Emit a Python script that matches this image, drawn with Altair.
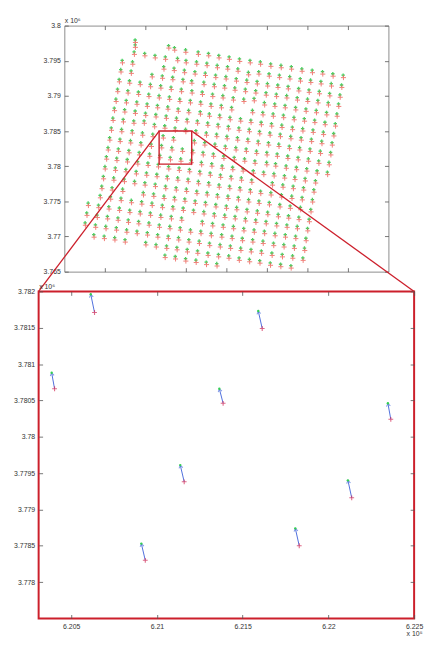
import math
import altair as alt
import pandas as pd

# ---------------- data ----------------
# Overview panel: surveyed grid points, easting (x 10^5 m) and northing (x 10^6 m), one list per grid row
TOP_EAST = [
    [6.1551, 6.1551, 6.1716, 6.1745, 6.1800, 6.1862, 6.1913, 6.1964, 6.2015, 6.2066, 6.2118, 6.2169, 6.2220, 6.2271, 6.2322, 6.2374, 6.2425, 6.2476, 6.2527, 6.2578],
    [6.1546, 6.1598, 6.1649, 6.1700, 6.1760, 6.1802, 6.1854, 6.1905, 6.1956, 6.2007, 6.2058, 6.2110, 6.2161, 6.2212, 6.2263, 6.2314, 6.2366, 6.2417, 6.2468, 6.2519, 6.2570],
    [6.1487, 6.1538, 6.1692, 6.1743, 6.1794, 6.1846, 6.1897, 6.1948, 6.1999, 6.2050, 6.2102, 6.2153, 6.2204, 6.2255, 6.2306, 6.2358, 6.2409, 6.2460, 6.2511, 6.2562],
    [6.1480, 6.1531, 6.1634, 6.1685, 6.1736, 6.1787, 6.1830, 6.1890, 6.1941, 6.1992, 6.2043, 6.2095, 6.2146, 6.2197, 6.2248, 6.2299, 6.2351, 6.2402, 6.2453, 6.2504, 6.2555],
    [6.1472, 6.1523, 6.1575, 6.1626, 6.1677, 6.1728, 6.1779, 6.1831, 6.1882, 6.1933, 6.1984, 6.2035, 6.2087, 6.2138, 6.2189, 6.2240, 6.2291, 6.2343, 6.2394, 6.2445, 6.2496, 6.2547],
    [6.1464, 6.1515, 6.1567, 6.1618, 6.1669, 6.1720, 6.1771, 6.1823, 6.1874, 6.1925, 6.1976, 6.2027, 6.2130, 6.2181, 6.2232, 6.2283, 6.2335, 6.2386, 6.2437, 6.2488, 6.2539],
    [6.1456, 6.1507, 6.1559, 6.1610, 6.1661, 6.1712, 6.1763, 6.1815, 6.1872, 6.1917, 6.1968, 6.2019, 6.2071, 6.2122, 6.2173, 6.2224, 6.2275, 6.2327, 6.2378, 6.2429, 6.2480, 6.2531],
    [6.1448, 6.1499, 6.1551, 6.1602, 6.1653, 6.1704, 6.1755, 6.1807, 6.1858, 6.1909, 6.1960, 6.2011, 6.2063, 6.2114, 6.2165, 6.2216, 6.2267, 6.2319, 6.2370, 6.2421, 6.2472, 6.2523],
    [6.1441, 6.1492, 6.1544, 6.1595, 6.1646, 6.1697, 6.1748, 6.1800, 6.1851, 6.1902, 6.1953, 6.2004, 6.2056, 6.2107, 6.2158, 6.2209, 6.2260, 6.2312, 6.2363, 6.2414, 6.2465, 6.2516],
    [6.1433, 6.1484, 6.1536, 6.1587, 6.1638, 6.1689, 6.1740, 6.1843, 6.1894, 6.1945, 6.1996, 6.2048, 6.2099, 6.2150, 6.2201, 6.2252, 6.2304, 6.2355, 6.2406, 6.2457, 6.2508],
    [6.1425, 6.1476, 6.1528, 6.1579, 6.1630, 6.1681, 6.1732, 6.1784, 6.1835, 6.1886, 6.1937, 6.1988, 6.2040, 6.2091, 6.2142, 6.2200, 6.2244, 6.2296, 6.2347, 6.2398, 6.2449, 6.2500],
    [6.1417, 6.1468, 6.1520, 6.1571, 6.1622, 6.1673, 6.1724, 6.1776, 6.1827, 6.1878, 6.1929, 6.1980, 6.2032, 6.2083, 6.2134, 6.2185, 6.2236, 6.2288, 6.2339, 6.2390, 6.2441],
    [6.1409, 6.1460, 6.1512, 6.1563, 6.1614, 6.1665, 6.1716, 6.1768, 6.1819, 6.1870, 6.1921, 6.1972, 6.2024, 6.2075, 6.2126, 6.2228, 6.2280, 6.2331, 6.2382, 6.2433],
    [6.1402, 6.1453, 6.1505, 6.1556, 6.1607, 6.1658, 6.1709, 6.1761, 6.1812, 6.1863, 6.1914, 6.1965, 6.2017, 6.2068, 6.2119, 6.2170, 6.2221, 6.2273, 6.2324, 6.2375, 6.2426],
    [6.1394, 6.1445, 6.1497, 6.1548, 6.1599, 6.1650, 6.1701, 6.1753, 6.1804, 6.1855, 6.1906, 6.1957, 6.2009, 6.2060, 6.2111, 6.2162, 6.2213, 6.2265, 6.2316, 6.2367, 6.2418],
    [6.1386, 6.1437, 6.1489, 6.1591, 6.1642, 6.1693, 6.1745, 6.1796, 6.1847, 6.1898, 6.1949, 6.2001, 6.2052, 6.2103, 6.2154, 6.2205, 6.2257, 6.2308, 6.2359, 6.2410],
    [6.1378, 6.1429, 6.1481, 6.1532, 6.1583, 6.1634, 6.1685, 6.1737, 6.1788, 6.1839, 6.1890, 6.1941, 6.1993, 6.2044, 6.2095, 6.2146, 6.2197, 6.2249, 6.2300, 6.2351, 6.2402],
    [6.1319, 6.1370, 6.1421, 6.1473, 6.1524, 6.1575, 6.1626, 6.1677, 6.1729, 6.1780, 6.1882, 6.1933, 6.1985, 6.2036, 6.2087, 6.2138, 6.2189, 6.2241, 6.2292, 6.2343, 6.2394],
    [6.1312, 6.1363, 6.1414, 6.1466, 6.1517, 6.1568, 6.1619, 6.1670, 6.1722, 6.1773, 6.1824, 6.1875, 6.1926, 6.1978, 6.2029, 6.2080, 6.2131, 6.2182, 6.2234, 6.2285, 6.2336, 6.2387],
    [6.1304, 6.1355, 6.1406, 6.1458, 6.1509, 6.1560, 6.1611, 6.1662, 6.1714, 6.1765, 6.1816, 6.1867, 6.1918, 6.1970, 6.2021, 6.2072, 6.2123, 6.2174, 6.2226, 6.2277, 6.2328, 6.2379],
    [6.1347, 6.1398, 6.1450, 6.1501, 6.1603, 6.1654, 6.1706, 6.1757, 6.1808, 6.1859, 6.1910, 6.1962, 6.2013, 6.2064, 6.2115, 6.2166, 6.2218, 6.2269, 6.2320],
    [6.1698, 6.1749, 6.1800, 6.1851, 6.1902, 6.1954],
]
TOP_NORTH = [
    [3.7976, 3.7969, 3.7968, 3.7965, 3.7962, 3.7959, 3.7957, 3.7954, 3.7952, 3.7949, 3.7947, 3.7945, 3.7942, 3.7940, 3.7938, 3.7935, 3.7933, 3.7931, 3.7928, 3.7926],
    [3.7959, 3.7957, 3.7954, 3.7952, 3.7950, 3.7947, 3.7945, 3.7943, 3.7940, 3.7938, 3.7935, 3.7930, 3.7931, 3.7928, 3.7926, 3.7924, 3.7921, 3.7919, 3.7917, 3.7914, 3.7912],
    [3.7947, 3.7945, 3.7938, 3.7936, 3.7933, 3.7931, 3.7929, 3.7926, 3.7924, 3.7921, 3.7919, 3.7917, 3.7914, 3.7912, 3.7910, 3.7907, 3.7905, 3.7903, 3.7900, 3.7898],
    [3.7934, 3.7932, 3.7927, 3.7925, 3.7923, 3.7920, 3.7918, 3.7916, 3.7913, 3.7911, 3.7908, 3.7906, 3.7904, 3.7901, 3.7899, 3.7897, 3.7894, 3.7892, 3.7890, 3.7887, 3.7885],
    [3.7920, 3.7918, 3.7916, 3.7913, 3.7911, 3.7909, 3.7906, 3.7904, 3.7902, 3.7899, 3.7897, 3.7894, 3.7892, 3.7893, 3.7887, 3.7885, 3.7883, 3.7880, 3.7878, 3.7876, 3.7873, 3.7871],
    [3.7906, 3.7904, 3.7902, 3.7899, 3.7897, 3.7895, 3.7892, 3.7890, 3.7888, 3.7885, 3.7883, 3.7880, 3.7876, 3.7873, 3.7871, 3.7869, 3.7866, 3.7864, 3.7862, 3.7859, 3.7857],
    [3.7892, 3.7890, 3.7888, 3.7885, 3.7883, 3.7881, 3.7878, 3.7876, 3.7874, 3.7871, 3.7869, 3.7866, 3.7864, 3.7862, 3.7859, 3.7857, 3.7855, 3.7852, 3.7850, 3.7848, 3.7845, 3.7843],
    [3.7879, 3.7877, 3.7875, 3.7872, 3.7870, 3.7868, 3.7865, 3.7863, 3.7861, 3.7858, 3.7856, 3.7853, 3.7851, 3.7849, 3.7846, 3.7844, 3.7842, 3.7839, 3.7837, 3.7835, 3.7832, 3.7830],
    [3.7865, 3.7863, 3.7861, 3.7861, 3.7856, 3.7854, 3.7851, 3.7849, 3.7847, 3.7844, 3.7842, 3.7839, 3.7837, 3.7835, 3.7832, 3.7830, 3.7828, 3.7825, 3.7823, 3.7821, 3.7818, 3.7816],
    [3.7851, 3.7849, 3.7847, 3.7844, 3.7842, 3.7840, 3.7837, 3.7833, 3.7830, 3.7828, 3.7825, 3.7823, 3.7821, 3.7818, 3.7816, 3.7814, 3.7811, 3.7809, 3.7807, 3.7804, 3.7802],
    [3.7837, 3.7835, 3.7833, 3.7830, 3.7828, 3.7826, 3.7823, 3.7821, 3.7819, 3.7816, 3.7814, 3.7811, 3.7809, 3.7807, 3.7804, 3.7802, 3.7800, 3.7797, 3.7795, 3.7793, 3.7790, 3.7788],
    [3.7823, 3.7821, 3.7819, 3.7816, 3.7814, 3.7812, 3.7809, 3.7807, 3.7805, 3.7802, 3.7800, 3.7797, 3.7795, 3.7793, 3.7790, 3.7788, 3.7786, 3.7783, 3.7781, 3.7779, 3.7776],
    [3.7810, 3.7808, 3.7806, 3.7803, 3.7801, 3.7799, 3.7796, 3.7794, 3.7792, 3.7789, 3.7787, 3.7784, 3.7782, 3.7780, 3.7777, 3.7773, 3.7770, 3.7768, 3.7766, 3.7763],
    [3.7796, 3.7794, 3.7792, 3.7789, 3.7787, 3.7785, 3.7782, 3.7780, 3.7778, 3.7775, 3.7773, 3.7770, 3.7768, 3.7766, 3.7763, 3.7761, 3.7759, 3.7756, 3.7754, 3.7752, 3.7749],
    [3.7782, 3.7780, 3.7778, 3.7775, 3.7773, 3.7771, 3.7768, 3.7766, 3.7764, 3.7761, 3.7759, 3.7756, 3.7754, 3.7752, 3.7749, 3.7747, 3.7745, 3.7742, 3.7740, 3.7738, 3.7735],
    [3.7768, 3.7766, 3.7764, 3.7759, 3.7757, 3.7754, 3.7752, 3.7750, 3.7747, 3.7745, 3.7742, 3.7740, 3.7738, 3.7735, 3.7733, 3.7731, 3.7728, 3.7726, 3.7724, 3.7721],
    [3.7755, 3.7753, 3.7751, 3.7748, 3.7746, 3.7744, 3.7741, 3.7739, 3.7737, 3.7734, 3.7732, 3.7729, 3.7727, 3.7725, 3.7722, 3.7720, 3.7718, 3.7715, 3.7713, 3.7711, 3.7708],
    [3.7744, 3.7741, 3.7739, 3.7737, 3.7734, 3.7732, 3.7730, 3.7727, 3.7725, 3.7723, 3.7718, 3.7715, 3.7713, 3.7711, 3.7708, 3.7706, 3.7704, 3.7701, 3.7699, 3.7697, 3.7694],
    [3.7730, 3.7727, 3.7725, 3.7723, 3.7720, 3.7718, 3.7716, 3.7713, 3.7711, 3.7709, 3.7706, 3.7704, 3.7701, 3.7699, 3.7697, 3.7694, 3.7692, 3.7690, 3.7687, 3.7685, 3.7683, 3.7680],
    [3.7716, 3.7713, 3.7711, 3.7709, 3.7706, 3.7704, 3.7702, 3.7699, 3.7697, 3.7695, 3.7692, 3.7690, 3.7687, 3.7685, 3.7683, 3.7680, 3.7678, 3.7676, 3.7673, 3.7671, 3.7669, 3.7666],
    [3.7699, 3.7697, 3.7695, 3.7692, 3.7688, 3.7685, 3.7683, 3.7681, 3.7678, 3.7676, 3.7673, 3.7671, 3.7669, 3.7666, 3.7664, 3.7662, 3.7659, 3.7657, 3.7655],
    [3.7670, 3.7668, 3.7665, 3.7663, 3.7660, 3.7658],
]

TOP_X_DOMAIN = [6.12, 6.28]
TOP_Y_DOMAIN = [3.765, 3.80]
TOP_X_TICKS = [6.14, 6.16, 6.18, 6.20, 6.22, 6.24, 6.26]
TOP_Y_TICKS = [3.765, 3.77, 3.775, 3.78, 3.785, 3.79, 3.795, 3.80]

# zoom window marked on the overview
ZOOM_EAST = [6.1668, 6.1829]
ZOOM_NORTH = [3.7803, 3.7850]

# Detail panel: displacement arrows (tail = red +, head = green)
DET_X_DOMAIN = [6.2031, 6.2250]
DET_Y_DOMAIN = [3.7775, 3.7820]
DET_X_TICKS = [6.205, 6.21, 6.215, 6.22, 6.225]
DET_Y_TICKS = [3.778, 3.7785, 3.779, 3.7795, 3.78, 3.7805, 3.781, 3.7815, 3.782]
TAIL_EAST = [6.20636, 6.20403, 6.21614, 6.21386, 6.22364, 6.21159, 6.20932, 6.21830, 6.22136]
TAIL_NORTH = [3.78171, 3.78066, 3.78149, 3.78046, 3.78024, 3.77938, 3.77830, 3.77850, 3.77916]
HEAD_EAST = [6.20614, 6.20386, 6.21591, 6.21364, 6.22347, 6.21136, 6.20909, 6.21807, 6.22114]
HEAD_NORTH = [3.78196, 3.78088, 3.78173, 3.78066, 3.78046, 3.77961, 3.77853, 3.77874, 3.77940]

# ---------------- layout / style ----------------
W1, H1 = 328, 249
W2, H2 = 380, 331
GAP = 20
FONT = "Liberation Sans"
RED_PT = "#ef6158"
GREEN_PT = "#33cf52"
FRAME_RED = "#cc1f2b"
BLUE = "#4e6fdc"
TAIL_RED = "#d42a55"
CROSS = "M -1 0 L 1 0 M 0 -1 L 0 1"
CHEVRON = "M -0.65 1 L 0 0 L 0.65 1"

east, north = [], []
for xs, ys in zip(TOP_EAST, TOP_NORTH):
    assert len(xs) == len(ys)
    east += xs
    north += ys
top_df = pd.DataFrame({"x": east, "y": north})


def axis(orient, values, labels=True, fmt=None, title=None, **extra):
    kw = dict(orient=orient, values=values, labels=labels, offset=-4, tickSize=4,
              tickWidth=0.8, tickColor="#555555", domain=False, grid=False,
              labelFont=FONT, labelFontSize=7, labelColor="#333333",
              labelPadding=4, labelFlush=False, title=title)
    if fmt:
        kw["format"] = fmt
    kw.update(extra)
    return alt.Axis(**kw)


def expo(**extra):
    d = dict(titleAngle=0, titleFont=FONT, titleFontSize=7, titleFontWeight="normal",
             titleColor="#333333", titleBaseline="alphabetic")
    d.update(extra)
    return d


xs1 = alt.Scale(domain=TOP_X_DOMAIN, nice=False, zero=False)
ys1 = alt.Scale(domain=TOP_Y_DOMAIN, nice=False, zero=False)

top_green = alt.Chart(top_df).mark_point(shape=CROSS, filled=False, size=12, strokeWidth=1.3,
                                         color=GREEN_PT, opacity=0.9,
                                         yOffset=-2.5, xOffset=-0.3).encode(
    x=alt.X("x:Q", scale=xs1, axis=axis("bottom", TOP_X_TICKS, labels=False)),
    y=alt.Y("y:Q", scale=ys1, axis=axis("left", TOP_Y_TICKS, fmt=".4~r", title="x 10⁶",
                                          **expo(titleX=-4, titleY=-3, titleAlign="left"))),
)
top_red = alt.Chart(top_df).mark_point(shape=CROSS, filled=False, size=26, strokeWidth=1,
                                       color=RED_PT, opacity=0.8).encode(
    x=alt.X("x:Q", scale=xs1, axis=None),
    y=alt.Y("y:Q", scale=ys1, axis=None),
)

box_df = pd.DataFrame({"x": [ZOOM_EAST[0]], "x2": [ZOOM_EAST[1]],
                       "y": [ZOOM_NORTH[0]], "y2": [ZOOM_NORTH[1]]})
box = alt.Chart(box_df).mark_rect(fillOpacity=0, stroke=FRAME_RED, strokeWidth=1.4).encode(
    x=alt.X("x:Q", scale=xs1, axis=None), x2="x2:Q",
    y=alt.Y("y:Q", scale=ys1, axis=None), y2="y2:Q",
)

# connector lines from the zoom window to the corners of the detail panel
sx = (TOP_X_DOMAIN[1] - TOP_X_DOMAIN[0]) / W1
sy = (TOP_Y_DOMAIN[1] - TOP_Y_DOMAIN[0]) / H1
off = (W2 - W1) / 2
left_x = TOP_X_DOMAIN[0] - off * sx
right_x = TOP_X_DOMAIN[0] + (W1 + off) * sx
below_y = TOP_Y_DOMAIN[0] - GAP * sy
conn_df = pd.DataFrame({"x": [ZOOM_EAST[0], ZOOM_EAST[1]], "y": [ZOOM_NORTH[1], ZOOM_NORTH[1]],
                        "x2": [left_x, right_x], "y2": [below_y, below_y]})
conn = alt.Chart(conn_df).mark_rule(color=FRAME_RED, strokeWidth=1.3, clip=False).encode(
    x=alt.X("x:Q", scale=xs1, axis=None), x2="x2:Q",
    y=alt.Y("y:Q", scale=ys1, axis=None), y2="y2:Q",
)
top_axes = alt.Chart(box_df).mark_point(opacity=0).encode(
    x=alt.X("x:Q", scale=xs1, axis=axis("top", TOP_X_TICKS, labels=False)),
    y=alt.Y("y:Q", scale=ys1, axis=axis("right", TOP_Y_TICKS, labels=False)),
)
top = alt.layer(top_green, top_red, box, conn, top_axes).resolve_axis(
    x="independent", y="independent"
).properties(width=W1, height=H1, view=alt.ViewBackground(stroke="#8c8c8c", strokeWidth=1))

# ---------------- detail panel ----------------
xs2 = alt.Scale(domain=DET_X_DOMAIN, nice=False, zero=False)
ys2 = alt.Scale(domain=DET_Y_DOMAIN, nice=False, zero=False)
angles = []
for tx, ty, hx, hy in zip(TAIL_EAST, TAIL_NORTH, HEAD_EAST, HEAD_NORTH):
    dx = (hx - tx) / (DET_X_DOMAIN[1] - DET_X_DOMAIN[0]) * W2
    dy = (hy - ty) / (DET_Y_DOMAIN[1] - DET_Y_DOMAIN[0]) * H2
    angles.append(math.degrees(math.atan2(dx, dy)) % 360)
arr_df = pd.DataFrame({"tx": TAIL_EAST, "ty": TAIL_NORTH, "hx": HEAD_EAST,
                       "hy": HEAD_NORTH, "angle": angles})

shafts = alt.Chart(arr_df).mark_rule(color=BLUE, strokeWidth=1).encode(
    x=alt.X("tx:Q", scale=xs2, axis=axis("bottom", DET_X_TICKS, fmt=".4~r", title="x 10⁵",
                                          **expo(titleX=W2 + 8, titleY=21, titleAlign="right"))),
    y=alt.Y("ty:Q", scale=ys2, axis=axis("left", DET_Y_TICKS, fmt=".5~r", title="x 10⁶",
                                          **expo(titleX=-4, titleY=-3, titleAlign="left"))),
    x2="hx:Q", y2="hy:Q",
)
heads = alt.Chart(arr_df).mark_point(shape=CHEVRON, filled=False, size=36, strokeWidth=1,
                                     color=BLUE).encode(
    x=alt.X("hx:Q", scale=xs2, axis=None),
    y=alt.Y("hy:Q", scale=ys2, axis=None),
    angle=alt.Angle("angle:Q", scale=None),
)
greens = alt.Chart(arr_df).mark_circle(size=6, color=GREEN_PT, opacity=1).encode(
    x=alt.X("hx:Q", scale=xs2, axis=None),
    y=alt.Y("hy:Q", scale=ys2, axis=None),
)
tails = alt.Chart(arr_df).mark_point(shape=CROSS, filled=False, size=24, strokeWidth=1.1,
                                     color=TAIL_RED).encode(
    x=alt.X("tx:Q", scale=xs2, axis=None),
    y=alt.Y("ty:Q", scale=ys2, axis=None),
)
det_axes = alt.Chart(arr_df).mark_point(opacity=0).encode(
    x=alt.X("tx:Q", scale=xs2, axis=axis("top", DET_X_TICKS, labels=False)),
    y=alt.Y("ty:Q", scale=ys2, axis=axis("right", DET_Y_TICKS, labels=False)),
)
bottom = alt.layer(shafts, heads, greens, tails, det_axes).resolve_axis(
    x="independent", y="independent"
).properties(width=W2, height=H2, view=alt.ViewBackground(stroke=FRAME_RED, strokeWidth=2))

chart = alt.vconcat(top, bottom, spacing=GAP, center=True, bounds="flush").configure(
    padding={"left": 4, "top": 4, "right": 0, "bottom": 0},
    background="white",
)

chart.save("out.html", embed_options={"renderer": "svg", "actions": False})
